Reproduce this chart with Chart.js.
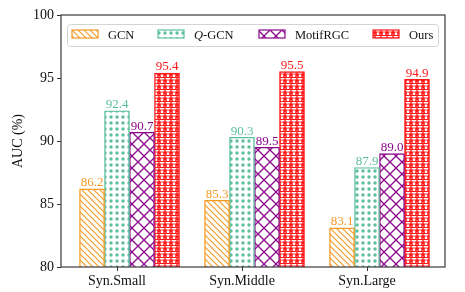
<!DOCTYPE html>
<html>
<head>
<meta charset="utf-8">
<script src="https://cdn.jsdelivr.net/npm/chart.js@4.4.0/dist/chart.umd.min.js"></script>
<style>
    html, body { margin: 0; padding: 0; background: #fff; }
    #wrap { width: 465px; height: 292px; }
</style>
</head>
<body>
<div id="wrap"><canvas id="myChart" width="465" height="292"></canvas></div>
<script>
var categories = ['Syn.Small', 'Syn.Middle', 'Syn.Large'];
var methods = ['GCN', 'Q-GCN', 'MotifRGC', 'Ours'];
var gcnValues = [86.2, 85.3, 83.1];
var qgcnValues = [92.4, 90.3, 87.9];
var motifValues = [90.7, 89.5, 89.0];
var oursValues = [95.4, 95.5, 94.9];
var yTicks = [80, 85, 90, 95, 100];

var colors = ['#F59A23', '#5DBF9C', '#8B088B', '#FF1A1A'];
var offsets = [-0.2, 0, 0.2, 0.4];
var serif = "'Liberation Serif', 'DejaVu Serif', serif";

// small tiles used as hatch fills
function makeTile(w, h, draw) {
    var c = document.createElement('canvas');
    c.width = w;
    c.height = h;
    var t = c.getContext('2d');
    t.fillStyle = '#fff';
    t.fillRect(0, 0, w, h);
    draw(t);
    return document.getElementById('myChart').getContext('2d').createPattern(c, 'repeat');
}

function star(t, cx, cy, r) {
    t.beginPath();
    for (var i = 0; i < 10; i++) {
        var rr = i % 2 == 0 ? r : r * 0.45;
        var a = -Math.PI / 2 + i * Math.PI / 5;
        var px = cx + rr * Math.cos(a), py = cy + rr * Math.sin(a);
        if (i == 0) t.moveTo(px, py); else t.lineTo(px, py);
    }
    t.closePath();
}

var patterns = [
    makeTile(6, 6, function (t) {
        t.strokeStyle = colors[0];
        t.lineWidth = 1.1;
        t.beginPath();
        t.moveTo(-1, -1); t.lineTo(7, 7);
        t.moveTo(-1, 5); t.lineTo(1, 7);
        t.moveTo(5, -1); t.lineTo(7, 1);
        t.stroke();
    }),
    makeTile(6, 6, function (t) {
        t.fillStyle = colors[1];
        t.beginPath();
        t.arc(3, 3, 1.7, 0, Math.PI * 2);
        t.fill();
    }),
    makeTile(12, 12, function (t) {
        t.strokeStyle = colors[2];
        t.lineWidth = 1.3;
        t.beginPath();
        t.moveTo(0, 0); t.lineTo(12, 12);
        t.moveTo(12, 0); t.lineTo(0, 12);
        t.stroke();
    }),
    makeTile(6, 6, function (t) {
        t.fillStyle = colors[3];
        t.strokeStyle = colors[3];
        t.lineWidth = 0.7;
        star(t, 3, 2.8, 2.7);
        t.fill();
        t.stroke();
        t.lineWidth = 1;
        t.beginPath();
        t.moveTo(0, 5.5); t.lineTo(6, 5.5);
        t.stroke();
    })
];

function points(vals, off) {
    return vals.map(function (v, i) {
        return { x: i + off, y: v };
    });
}

var allValues = [gcnValues, qgcnValues, motifValues, oursValues];
var datasets = allValues.map(function (vals, i) {
    return {
        label: methods[i],
        data: points(vals, offsets[i]),
        backgroundColor: patterns[i],
        borderColor: colors[i],
        borderWidth: 1.4,
        borderSkipped: false,
        barPercentage: 1,
        categoryPercentage: 1,
        grouped: false
    };
});

// numbers above the bars
const valueLabels = {
    id: 'valueLabels',
    afterDatasetsDraw(chart) {
        const { ctx } = chart;
        ctx.save();
        ctx.font = '13px ' + serif;
        ctx.textAlign = 'center';
        ctx.textBaseline = 'bottom';
        chart.data.datasets.forEach(function (ds, i) {
            ctx.fillStyle = colors[i];
            chart.getDatasetMeta(i).data.forEach(function (el, j) {
                ctx.fillText(ds.data[j].y.toFixed(1), el.x, el.y + 0.5);
            });
        });
        ctx.restore();
    }
};

// box round the plot + legend inside it
const frameAndLegend = {
    id: 'frameAndLegend',
    afterDraw(chart) {
        const { ctx, chartArea } = chart;
        ctx.save();
        ctx.strokeStyle = '#3a3a3a';
        ctx.lineWidth = 1.2;
        ctx.strokeRect(chartArea.left, chartArea.top, chartArea.right - chartArea.left, chartArea.bottom - chartArea.top);

        var lx = chartArea.left + 6, ly = chartArea.top + 9, lw = chartArea.right - chartArea.left - 13, lh = 22;
        ctx.fillStyle = 'rgba(255,255,255,0.85)';
        ctx.strokeStyle = '#d4d4d4';
        ctx.lineWidth = 1;
        ctx.beginPath();
        ctx.roundRect(lx + 0.5, ly + 0.5, lw, lh, 3);
        ctx.fill();
        ctx.stroke();

        var swX = [72, 158, 259, 373];
        ctx.font = '12.5px ' + serif;
        ctx.textBaseline = 'middle';
        methods.forEach(function (m, i) {
            var sx = swX[i], sy = ly + 6;
            ctx.fillStyle = patterns[i];
            ctx.fillRect(sx, sy, 26, 8);
            ctx.strokeStyle = colors[i];
            ctx.lineWidth = 1.2;
            ctx.strokeRect(sx, sy, 26, 8);
            ctx.fillStyle = '#111';
            var tx = sx + 36, ty = ly + 11.5;
            if (m == 'Q-GCN') {
                ctx.font = 'italic 12.5px ' + serif;
                ctx.fillText('Q', tx, ty);
                var qw = ctx.measureText('Q').width;
                ctx.font = '12.5px ' + serif;
                ctx.fillText('-GCN', tx + qw, ty);
            } else {
                ctx.fillText(m, tx, ty);
            }
        });
        ctx.restore();
    }
};

new Chart(document.getElementById('myChart'), {
    type: 'bar',
    data: { datasets: datasets },
    options: {
        responsive: false,
        animation: false,
        layout: { padding: { left: 0, top: 15, right: 20, bottom: 0 } },
        plugins: {
            legend: { display: false },
            tooltip: { enabled: false }
        },
        scales: {
            x: {
                type: 'linear',
                offset: false,
                min: -0.448,
                max: 2.624,
                afterBuildTicks: function (scale) {
                    scale.ticks = categories.map(function (c, i) { return { value: i }; });
                },
                afterFit: function (scale) { scale.height = 25; },
                grid: { offset: false, drawOnChartArea: false, drawTicks: true, tickLength: 4, color: '#333' },
                border: { display: false },
                ticks: {
                    color: '#111',
                    font: { family: serif, size: 14 },
                    padding: 2,
                    maxRotation: 0,
                    callback: function (v) { return categories[v]; }
                }
            },
            y: {
                min: yTicks[0],
                max: yTicks[yTicks.length - 1],
                afterBuildTicks: function (scale) {
                    scale.ticks = yTicks.map(function (v) { return { value: v }; });
                },
                afterFit: function (scale) { scale.width = 61; },
                grid: { drawOnChartArea: false, drawTicks: true, tickLength: 4, color: '#333' },
                border: { display: false },
                title: {
                    display: true,
                    text: 'AUC (%)',
                    color: '#111',
                    font: { family: serif, size: 14 },
                    padding: { top: 10, bottom: 0 }
                },
                ticks: {
                    color: '#111',
                    font: { family: serif, size: 14 },
                    padding: 3
                }
            }
        }
    },
    plugins: [valueLabels, frameAndLegend]
});
</script>
</body>
</html>
